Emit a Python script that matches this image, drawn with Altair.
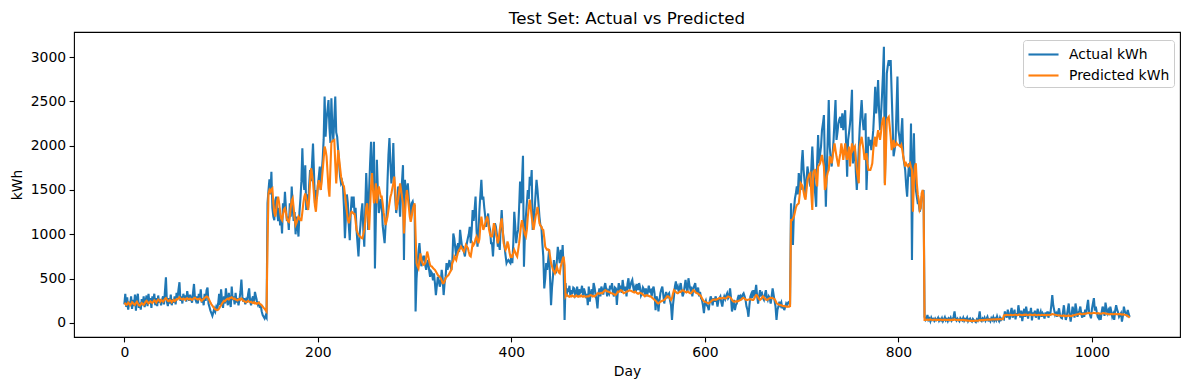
import altair as alt
import pandas as pd

# ---- values (kWh per day) ----
# Segment A: days 0-147
actual_a = [
    210, 330, 180, 290, 150, 240, 200, 300, 160, 260,
    190, 320, 140, 280, 330, 170, 230, 150, 270, 200,
    300, 180, 250, 310, 190, 330, 220, 280, 170, 300,
    240, 330, 200, 280, 190, 310, 230, 270, 200, 260,
    300, 210, 360, 515, 240, 190, 280, 220, 320, 200,
    270, 230, 300, 210, 340, 280, 380, 460, 250, 300,
    220, 330, 270, 310, 240, 360, 290, 250, 320, 270,
    230, 340, 440, 280, 250, 300, 220, 330, 260, 380,
    230, 280, 200, 330, 250, 370, 400, 220, 180, 140,
    110, 80, 120, 160, 130, 180, 150, 220, 330, 200,
    380, 250, 170, 300, 220, 390, 260, 200, 340, 240,
    180, 410, 260, 300, 210, 340, 230, 280, 200, 270,
    350, 490, 300, 240, 280, 210, 260, 230, 330, 390,
    250, 200, 270, 300, 220, 350, 300, 250, 210, 240,
    170, 200, 130, 90, 70, 50, 80, 60,
]
pred_a = [
    215, 220, 205, 210, 230, 220, 200, 215, 235, 225,
    210, 205, 225, 240, 220, 200, 195, 210, 225, 215,
    205, 220, 240, 250, 235, 220, 230, 245, 235, 225,
    240, 255, 245, 230, 250, 265, 255, 240, 260, 250,
    240, 255, 270, 280, 265, 250, 245, 260, 250, 235,
    250, 260, 245, 255, 270, 265, 280, 290, 275, 270,
    265, 275, 270, 260, 275, 280, 270, 265, 275, 270,
    260, 270, 280, 285, 275, 270, 265, 270, 275, 260,
    250, 265, 270, 285, 290, 300, 295, 275, 255, 230,
    210, 195, 180, 165, 155, 150, 145, 150, 165, 185,
    200, 220, 235, 250, 245, 260, 270, 275, 265, 280,
    285, 290, 280, 270, 275, 265, 260, 255, 265, 270,
    260, 275, 265, 250, 245, 240, 235, 245, 250, 240,
    235, 240, 230, 225, 235, 220, 225, 215, 225, 230,
    215, 210, 200, 185, 170, 160, 145, 130,
]

# Segment B: days 148-301
actual_b = [
    1350, 1500,
    1620, 1450, 1705, 1300, 1200, 1160, 1380, 1425, 1250, 1150,
    1300, 1100, 1200, 1010, 1350, 1250, 1480, 1300, 1150, 1200,
    1050, 1350, 1200, 1540, 1300, 1150, 1250, 1000, 1200, 1100,
    975, 1250, 1400, 1600, 1970, 1615, 1500, 1780, 1275, 1450,
    1300, 1550, 1725, 1600, 1800, 2025, 1700, 1350, 1500, 1400,
    1550, 1650, 1765, 1500, 1700, 1850, 2065, 2555, 2100, 2300,
    2400, 2515, 2200, 2030, 2535, 2200, 2065, 2300, 2555, 2150,
    2100, 1950, 1800, 1650, 1575, 1600, 1540, 1300, 955, 1200,
    1450, 1350, 1100, 935, 1250, 1425, 1300, 1425, 1220, 1300,
    1050, 900, 750, 975, 1100, 1250, 1350, 1050, 860, 1300,
    1690, 1400, 1050, 1500, 1800, 2045, 1700, 1500, 2045, 615,
    1200, 1840, 1500, 1240, 1300, 1400, 1350, 1100, 1000, 900,
    1100, 1200, 1600, 1900, 2085, 1800, 1575, 1700, 2030, 1600,
    1400, 1240, 1350, 1540, 1400, 1200, 1450, 1600, 1780, 710,
    1615, 1450, 1500, 1575, 1400, 1300, 1200, 1350, 1370, 1300,
    1310, 130,
]
pred_b = [
    900, 1460,
    1500, 1480, 1510, 1520, 1350, 1250, 1200, 1280, 1380, 1425,
    1350, 1250, 1180, 1160, 1220, 1280, 1295, 1250, 1180, 1150,
    1140, 1200, 1300, 1380, 1405, 1300, 1180, 1105, 1130, 1170,
    1200, 1180, 1160, 1160, 1250, 1350, 1420, 1460, 1400, 1330,
    1275, 1400, 1600, 1745, 1680, 1595, 1450, 1320, 1255, 1400,
    1550, 1610, 1550, 1500, 1600, 1725, 1850, 1990, 1950, 1880,
    1700, 1520, 1425, 1750, 2035, 2050, 2060, 2065, 1800, 1575,
    1750, 1950, 1850, 1750, 1650, 1600, 1560, 1540, 1450, 1350,
    1250, 1170, 1125, 1180, 1240, 1255, 1245, 1235, 1230, 1150,
    1050, 1020, 995, 980, 970, 960, 955, 1000, 1050, 1150,
    1300, 1350, 1200, 1050, 1300, 1550, 1690, 1500, 1350, 1450,
    1575, 1350, 1450, 1540, 1480, 1425, 1425, 1350, 1250, 1180,
    1105, 1150, 1200, 1275, 1350, 1420, 1460, 1520, 1575, 1650,
    1500, 1275, 1330, 1390, 1480, 1575, 1500, 1420, 1350, 1010,
    1200, 1400, 1500, 1420, 1310, 1200, 1140, 1200, 1275, 1320,
    1350, 1000,
]

# Segment C: days 302-455
actual_c = [
    500, 675, 800, 900, 750, 640, 700, 750,
    750, 650, 600, 680, 710, 600, 520, 580, 560, 480,
    560, 450, 315, 420, 520, 480, 410, 450, 600, 500,
    315, 450, 520, 675, 600, 650, 710, 640, 600, 700,
    1010, 955, 850, 750, 860, 900, 800, 1050, 950, 860,
    860, 800, 750, 850, 900, 955, 1000, 1085, 900, 1050,
    1275, 1150, 1275, 1425, 1050, 860, 1000, 1275, 1450, 1615,
    1390, 1425, 1300, 1200, 1085, 1150, 1235, 1100, 1050, 900,
    900, 750, 950, 1125, 1085, 1000, 860, 900, 825, 1100,
    1275, 1050, 950, 860, 760, 675, 700, 710, 690, 675,
    750, 675, 900, 1255, 1100, 900, 1000, 1050, 1300, 1595,
    1350, 1600, 1885, 635, 1000, 1200, 1350, 1500, 1400, 1650,
    1550, 1725, 1050, 1150, 1275, 1450, 1615, 1500, 1350, 1200,
    1100, 1085, 900, 750, 390, 500, 675, 600, 700, 825,
    500, 200, 400, 525, 710, 600, 560, 700, 860, 750,
    675, 825, 700, 880, 600, 35,
]
pred_c = [
    675, 640, 615, 700, 785, 720, 680, 655,
    660, 675, 740, 805, 760, 700, 655, 640, 635, 620,
    610, 600, 580, 560, 540, 530, 520, 505, 480, 450,
    450, 470, 505, 520, 530, 540, 560, 580, 600, 680,
    700, 750, 730, 710, 760, 800, 825, 840, 860, 840,
    820, 805, 840, 880, 860, 845, 800, 760, 750, 820,
    900, 880, 900, 950, 975, 940, 900, 950, 1100, 1200,
    1120, 1050, 1080, 1125, 1160, 1200, 1150, 1050, 1000, 975,
    975, 1050, 1125, 1080, 1010, 960, 900, 950, 1050, 1120,
    1180, 1050, 900, 860, 825, 850, 920, 880, 800, 750,
    760, 750, 790, 825, 800, 770, 750, 820, 900, 1000,
    1100, 1160, 1100, 1050, 1000, 975, 1050, 1200, 1300, 1390,
    1300, 1200, 1120, 1050, 1120, 1200, 1250, 1310, 1220, 1125,
    1100, 1085, 1060, 1050, 960, 860, 840, 825, 830, 825,
    750, 675, 640, 600, 580, 560, 590, 635, 600, 570,
    560, 635, 680, 720, 750, 650,
]

# Segment D: days 456-688
actual_d = [
    450, 300, 390, 350,
    420, 300, 370, 330, 400, 390, 310, 335, 410, 300,
    380, 340, 355, 420, 310, 390, 350, 280, 330, 200,
    410, 240, 330, 380, 300, 450, 400, 320, 260, 165,
    330, 390, 300, 410, 370, 320, 400, 450, 380, 300,
    360, 335, 420, 380, 450, 340, 300, 400, 390, 205,
    350, 450, 390, 420, 340, 485, 400, 360, 410, 300,
    440, 505, 380, 420, 460, 485, 400, 350, 410, 380,
    440, 370, 450, 400, 310, 335, 400, 380, 320, 390,
    300, 350, 420, 360, 370, 300, 380, 410, 330, 145,
    300, 260, 130, 250, 335, 380, 410, 320, 220, 300,
    350, 280, 320, 335, 250, 200, 35, 200, 300, 410,
    470, 380, 410, 350, 400, 450, 370, 300, 335, 410,
    485, 400, 350, 505, 430, 380, 410, 300, 380, 420,
    450, 360, 330, 400, 300, 350, 280, 260, 200, 110,
    220, 250, 200, 185, 145, 250, 300, 260, 200, 280,
    240, 300, 260, 185, 250, 280, 300, 230, 185, 260,
    300, 270, 310, 335, 280, 300, 390, 280, 130, 200,
    260, 145, 200, 220, 280, 315, 260, 300, 280, 320,
    335, 300, 260, 185, 150, 70, 200, 300, 330, 280,
    370, 300, 350, 430, 300, 220, 300, 370, 320, 335,
    280, 260, 320, 370, 290, 260, 300, 280, 220, 300,
    390, 320, 250, 185, 35, 150, 185, 240, 200, 230,
    165, 200, 145, 180, 220, 200, 230, 240, 210,
]
pred_d = [
    300, 320, 310, 300,
    295, 305, 300, 310, 300, 295, 300, 310, 300, 295,
    305, 300, 310, 300, 295, 305, 300, 295, 300, 300,
    300, 310, 315, 310, 300, 305, 300, 310, 320, 335,
    335, 330, 335, 340, 335, 350, 360, 370, 365, 355,
    355, 350, 345, 335, 335, 330, 325, 315, 320, 335,
    355, 350, 360, 370, 365, 350, 335, 340, 345, 355,
    355, 360, 370, 365, 360, 355, 350, 345, 355, 345,
    335, 330, 335, 340, 335, 330, 320, 310, 300, 310,
    315, 310, 305, 300, 300, 290, 280, 270, 260, 250,
    240, 225, 220, 230, 240, 245, 250, 255, 260, 270,
    285, 300, 300, 290, 275, 260, 280, 330, 370, 360,
    350, 340, 335, 345, 355, 350, 360, 370, 365, 355,
    350, 345, 355, 350, 340, 335, 340, 355, 370, 365,
    350, 340, 335, 330, 320, 315, 300, 280, 260, 245,
    240, 235, 230, 225, 220, 230, 240, 250, 260, 265,
    265, 260, 265, 270, 275, 280, 280, 275, 280, 285,
    280, 275, 280, 290, 300, 295, 290, 280, 260, 245,
    240, 240, 245, 240, 245, 250, 255, 260, 270, 280,
    280, 275, 265, 260, 260, 265, 265, 270, 265, 260,
    260, 275, 300, 315, 310, 290, 270, 260, 270, 285,
    300, 290, 275, 265, 260, 265, 275, 280, 285, 280,
    280, 275, 270, 250, 225, 215, 210, 205, 200, 200,
    195, 190, 190, 188, 185, 186, 185, 185, 190,
]

# Segment E: days 689-827
actual_e = [
    1350, 1050, 880, 1275, 1400, 1460, 1540, 1450, 1690, 1600, 1500,
    1800, 1950, 1725, 1600, 1425, 1600, 1765, 1690, 1600, 1540,
    1750, 1990, 1750, 1575, 1450, 1310, 1800, 2120, 1800, 1900,
    1990, 2175, 2250, 2345, 1800, 1310, 1725, 2100, 2515, 1990,
    1850, 1765, 1900, 2065, 2300, 2515, 2065, 2150, 2250, 2300,
    2325, 2200, 2365, 2175, 2300, 2400, 2000, 1650, 2065, 2150,
    2250, 2400, 2630, 1800, 1900, 1990, 1700, 1500, 1700, 1950,
    2200, 2365, 2515, 2300, 2175, 2250, 2365, 1500, 1800, 2100,
    2000, 2065, 1950, 2050, 2175, 2400, 2665, 2365, 2500, 2740,
    2400, 2175, 2350, 2555, 2800, 3115, 1575, 2200, 2815, 2900,
    2965, 2900, 2965, 2600, 2250, 1880, 1950, 2030, 2400, 2780,
    2175, 2100, 1990, 2150, 2310, 1880, 1800, 1725, 1550, 1425,
    1650, 1800, 1650, 2250, 710, 1800, 2140, 1615, 1500, 1425,
    1350, 1350, 1255, 1300, 1425, 1450, 1500, 70,
]
pred_e = [
    1160, 1160, 1180, 1200, 1250, 1300, 1330, 1340, 1350, 1450, 1575,
    1560, 1540, 1480, 1420, 1390, 1500, 1615, 1650, 1680, 1690,
    1450, 1275, 1690, 1720, 1725, 1620, 1540, 1765, 1780, 1800,
    1850, 1895, 1830, 1765, 1500, 1540, 1650, 1700, 1725, 1880,
    1850, 1800, 1880, 1950, 2025, 1950, 1880, 1820, 1765, 1850,
    1915, 2025, 1950, 1840, 1930, 2025, 1900, 1840, 1920, 1990,
    1765, 1900, 2025, 1950, 1970, 1990, 1850, 1725, 1650, 1575,
    1990, 2050, 2100, 2020, 1950, 1840, 1880, 1915, 1800, 1725,
    1725, 1725, 1760, 1800, 1950, 2050, 2100, 1990, 2100, 2175,
    2120, 2065, 2150, 2250, 2300, 2325, 1555, 1900, 2290, 2310,
    2325, 2215, 2100, 1950, 2000, 2065, 1990, 2000, 2030, 2010,
    2010, 2000, 1990, 2010, 1950, 1880, 1820, 1765, 1800, 1780,
    1765, 1780, 1800, 1760, 1725, 1255, 1600, 1765, 1800, 1575,
    1450, 1390, 1275, 1300, 1460, 1500, 1425, 35,
]

# Segment F: days 828-908
actual_f = [
    35, 50,
    90, 35, 50, 20, 60, 35, 45, 25, 50, 30,
    40, 60, 25, 45, 30, 55, 20, 40, 65, 30,
    45, 20, 50, 35, 60, 25, 40, 70, 130, 40,
    25, 50, 35, 20, 55, 40, 30, 60, 25, 45,
    35, 60, 20, 40, 50, 25, 15, 45, 30, 20,
    10, 40, 25, 60, 130, 30, 20, 50, 35, 60,
    25, 45, 70, 30, 40, 20, 55, 35, 65, 25,
    50, 30, 75, 40, 20, 60, 35, 50, 45,
]
pred_f = [
    35, 36,
    38, 35, 37, 40, 36, 34, 35, 38, 36, 33,
    35, 37, 34, 36, 38, 35, 33, 36, 38, 35,
    34, 36, 35, 37, 33, 35, 38, 36, 40, 36,
    34, 35, 33, 36, 34, 32, 33, 35, 32, 30,
    30, 28, 27, 25, 25, 24, 25, 23, 24, 25,
    25, 27, 26, 28, 33, 30, 32, 34, 33, 36,
    35, 37, 38, 36, 38, 40, 38, 39, 41, 40,
    42, 40, 43, 41, 42, 44, 42, 43, 45,
]

# Segment G: days 909-1039
actual_g = [
    40, 130, 90, 60, 150, 80, 40, 120, 170, 60, 100,
    150, 40, 110, 80, 200, 120, 60, 140, 20, 100,
    160, 70, 185, 110, 50, 130, 90, 170, 30, 120,
    80, 140, 60, 110, 160, 40, 100, 130, 70, 110,
    90, 50, 120, 80, 130, 60, 110, 100, 200, 315,
    200, 145, 90, 110, 70, 120, 165, 90, 60, 53,
    120, 200, 100, 35, 80, 150, 220, 90, 15, 100,
    185, 130, 60, 220, 150, 70, 110, 140, 185, 100,
    60, 120, 70, 150, 100, 190, 260, 127, 90, 53,
    160, 220, 280, 140, 185, 120, 70, 53, 100, 35,
    120, 185, 150, 80, 230, 160, 110, 140, 90, 185,
    130, 70, 100, 35, 140, 200, 150, 120, 70, 90,
    110, 15, 80, 185, 130, 110, 90, 147, 100, 70,
]
pred_g = [
    85, 90, 88, 92, 90, 87, 89, 93, 91, 88, 90,
    92, 95, 90, 88, 93, 96, 92, 90, 88, 91,
    94, 92, 95, 90, 88, 92, 95, 93, 90, 89,
    92, 94, 90, 88, 91, 93, 90, 88, 92, 90,
    88, 91, 90, 87, 92, 90, 89, 93, 95, 100,
    98, 95, 92, 90, 88, 85, 87, 84, 82, 80,
    82, 85, 80, 78, 80, 82, 85, 80, 78, 80,
    85, 88, 90, 92, 95, 98, 100, 103, 105, 100,
    98, 100, 103, 105, 108, 110, 112, 115, 110, 108,
    110, 112, 115, 113, 110, 108, 112, 110, 107, 105,
    108, 110, 112, 110, 108, 105, 103, 100, 98, 100,
    102, 100, 98, 100, 103, 100, 98, 100, 102, 100,
    98, 95, 97, 95, 92, 90, 85, 80, 70, 60,
]

segment_starts = [0, 148, 302, 456, 689, 828, 909]
actual_segments = [actual_a, actual_b, actual_c, actual_d, actual_e, actual_f, actual_g]
pred_segments = [pred_a, pred_b, pred_c, pred_d, pred_e, pred_f, pred_g]

series_names = ["Actual kWh", "Predicted kWh"]
series_colors = ["#1f77b4", "#ff7f0e"]
x_ticks = [0, 200, 400, 600, 800, 1000]
y_ticks = [0, 500, 1000, 1500, 2000, 2500, 3000]


def build(segments, name):
    rows = []
    for start, vals in zip(segment_starts, segments):
        for i, v in enumerate(vals):
            rows.append({"Day": start + i, "kWh": v, "series": name})
    return rows


df = pd.DataFrame(build(actual_segments, series_names[0]) + build(pred_segments, series_names[1]))

FONT = "DejaVu Sans"

x_enc = alt.X(
    "Day:Q",
    scale=alt.Scale(domain=[-52, 1091], nice=False, zero=False),
    axis=alt.Axis(
        values=x_ticks, title="Day", grid=False, domain=False,
        tickSize=4.9, tickWidth=1.1, tickColor="black",
        labelFontSize=13.9, labelColor="black", labelPadding=3.5, labelFont=FONT,
        titleFontSize=13.9, titleFontWeight="normal", titleColor="black", titleFont=FONT,
        titlePadding=5, format="d",
    ),
)
y_enc = alt.Y(
    "kWh:Q",
    scale=alt.Scale(domain=[-158, 3282], nice=False, zero=False),
    axis=alt.Axis(
        values=y_ticks, title="kWh", grid=False, domain=False,
        tickSize=4.9, tickWidth=1.1, tickColor="black",
        labelFontSize=13.9, labelColor="black", labelPadding=3.5, labelFont=FONT,
        titleFontSize=13.9, titleFontWeight="normal", titleColor="black", titleFont=FONT,
        titlePadding=6, format="d",
    ),
)
color_enc = alt.Color(
    "series:N",
    scale=alt.Scale(domain=series_names, range=series_colors),
    legend=alt.Legend(
        title=None, orient="none", legendX=949, legendY=8,
        symbolType="M-1.67,0H1.67", symbolSize=324, symbolStrokeWidth=2.1,
        symbolOffset=6,
        labelFontSize=13.9, labelColor="black", labelFont=FONT, labelOffset=15,
        padding=4, rowPadding=3, fillColor="rgba(255,255,255,0.8)",
        strokeColor="#cccccc", cornerRadius=3,
    ),
)

base = alt.Chart(df).encode(x=x_enc, y=y_enc, color=color_enc)
actual_layer = base.transform_filter(alt.datum.series == series_names[0]).mark_line(strokeWidth=2.1)
pred_layer = base.transform_filter(alt.datum.series == series_names[1]).mark_line(strokeWidth=2.1)

chart = (
    alt.layer(actual_layer, pred_layer)
    .properties(
        width=1106, height=305,
        title=alt.TitleParams("Test Set: Actual vs Predicted", fontSize=16.7, fontWeight="normal",
                              font=FONT, color="black", anchor="middle", offset=4),
        autosize=alt.AutoSizeParams(type="none"),
        padding={"left": 66, "top": 24, "right": 1, "bottom": 45},
        background="white",
    )
    .configure_view(stroke="black", strokeWidth=1.1)
)

chart.save("out.html", embed_options={"renderer": "svg", "actions": False})
